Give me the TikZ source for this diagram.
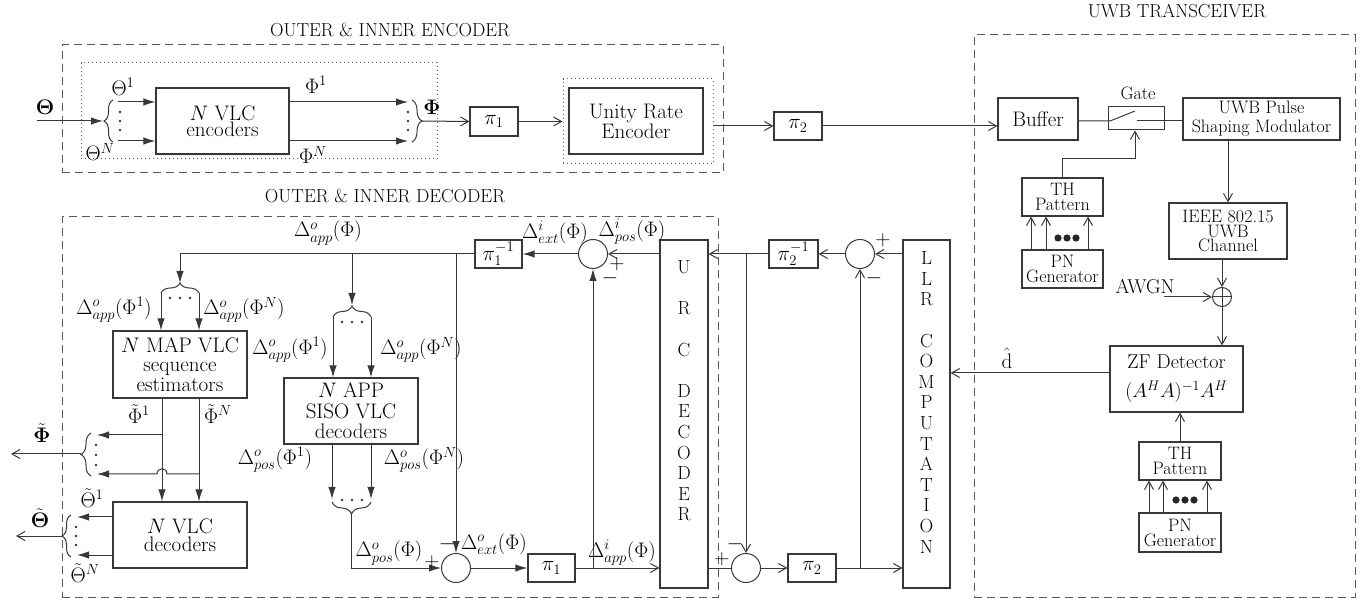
\RequirePackage{fix-cm}
\documentclass[tikz,border=0pt]{standalone}
\usepackage{amsmath}
\usetikzlibrary{arrows.meta,decorations.pathreplacing}
\begin{document}
\begin{tikzpicture}[x=1pt,y=-1pt,
  ln/.style={line width=1pt, draw=black!78},
  arF/.style={ln,-{Latex[length=12pt,width=7.5pt]}},
  arO/.style={ln,-{Straight Barb[length=8pt,width=9pt]}},
  box/.style={draw=black!78,line width=1.2pt,inner sep=0pt,align=center,font=\fontsize{21}{21}\selectfont},
  sbox/.style={box,font=\fontsize{18}{15}\selectfont},
  dbox/.style={draw=black!65,line width=1pt,dash pattern=on 8pt off 5pt,inner sep=0pt},
  tbox/.style={draw=black!65,line width=1pt,dash pattern=on 1.2pt off 2.8pt,inner sep=0pt},
  lab/.style={inner sep=0pt,font=\fontsize{21}{23}\selectfont},
  slab/.style={inner sep=0pt,font=\fontsize{18}{20}\selectfont},
  mlab/.style={inner sep=0pt,font=\fontsize{20}{22}\selectfont},
  ttl/.style={inner sep=0pt,font=\fontsize{18.8}{21}\selectfont},
  brc/.style={ln,decorate,decoration={brace,amplitude=#1}},
  brc/.default=10,
  sumc/.style={circle,draw=black!78,line width=1pt,minimum size=29pt,inner sep=0pt},
  vtxt/.style={inner sep=0pt,align=center,font=\fontsize{19}{20.6}\selectfont},
]
\useasboundingbox (0,0) rectangle (1369,601);
%================ ENCODER =================
\node[ttl] (encT) at (390,30) {OUTER \& INNER ENCODER};
\node[dbox,minimum width=661pt,minimum height=128pt] (encB) at (392.5,109) {};
\node[tbox,minimum width=356pt,minimum height=96pt] (dot1) at (259,111) {};
\node[box,font=\fontsize{21}{16}\selectfont,minimum width=133pt,minimum height=66pt] (venc) at (222.5,121) {$N$ VLC\\encoders};
\node[lab] (thIn) at (45,107) {$\mathbf{\Theta}$};
\coordinate (thS) at (37,121);
\coordinate (brL) at (103,121);
\draw[arF] (thS) -- (brL);
\draw[brc=9] (113,142) -- (113,100);
\foreach \yy in {112,121,130} \fill[black!80] (120,\yy) circle (1.4pt);
\node[lab] (th1) at (123,87) {$\Theta^1$};
\node[lab] (thN) at (100,152) {$\Theta^N$};
\coordinate (t1) at (118,102);
\coordinate (tN) at (118,141);
\draw[arF] (t1) -- (t1 -| venc.west);
\draw[arF] (tN) -- (tN -| venc.west);
\coordinate (p1) at (408,102);
\coordinate (pN) at (408,141);
\draw[arF] (p1 -| venc.east) -- (p1);
\draw[arF] (pN -| venc.east) -- (pN);
\node[lab] (ph1) at (316,85) {$\Phi^1$};
\node[lab] (phN) at (313,155) {$\Phi^N$};
\foreach \yy in {112,121,130} \fill[black!80] (408,\yy) circle (1.4pt);
\draw[brc=10] (412,100) -- (412,142);
\node[lab] (phO) at (432,107) {$\mathbf{\Phi}$};
\coordinate (phTp) at (422,121);
\node[box,minimum width=48pt,minimum height=29pt] (pi1) at (494,121.5) {$\pi_1$};
\draw[arO] (phTp) -- (pi1.west);
\node[tbox,minimum width=150pt,minimum height=85pt] (dot2) at (638,121.5) {};
\node[box,font=\fontsize{21}{18}\selectfont,minimum width=134pt,minimum height=66pt] (ure) at (636,121) {Unity Rate\\Encoder};
\draw[arO] (pi1.east) -- (dot2.west);
\node[box,minimum width=48pt,minimum height=28pt] (pi2) at (798,126) {$\pi_2$};
\draw[arO] (dot2.east |- pi2.west) -- (pi2.west);
%================ TRANSCEIVER =================
\node[ttl] (uwbT) at (1177,11) {UWB TRANSCEIVER};
\node[dbox,minimum width=381pt,minimum height=562pt] (uwbB) at (1164.5,316) {};
\node[box,minimum width=80pt,minimum height=42pt] (buf) at (1038,119) {Buffer};
\draw[arO] (pi2.east) -- (pi2.east -| buf.west);
\node[box,line width=1pt,minimum width=56pt,minimum height=23pt] (gate) at (1136,118.5) {};
\node[slab] (gateL) at (1138,93) {Gate};
\coordinate (sw1) at (1110,121);
\coordinate (sw2) at (1135,111);
\coordinate (sw3) at (1137,121);
\draw[ln] (buf.east |- sw1) -- (sw1) -- (sw2);
\node[sbox,font=\fontsize{18}{19}\selectfont,minimum width=157pt,minimum height=42pt] (mod) at (1261.5,119) {UWB Pulse\\Shaping Modulator};
\draw[ln] (sw3) -- (sw3 -| mod.west);
\node[sbox,minimum width=81pt,minimum height=38pt] (thA) at (1062.5,197) {TH\\Pattern};
\node[sbox,minimum width=81pt,minimum height=38pt] (pnA) at (1062.5,269) {PN\\Generator};
\coordinate (gc) at (1135,159);
\draw[arO] (thA.north) |- (gc) -- (gc |- gate.south);
\foreach \xx [count=\i] in {1031,1046,1088} {
  \coordinate (qa\i) at (\xx,0);
  \draw[arO] (pnA.north -| qa\i) -- (thA.south -| qa\i);
}
\foreach \xx in {1058,1067,1076} \fill[black!85] (\xx,238) circle (3.6pt);
\node[sbox,font=\fontsize{18}{14.5}\selectfont,minimum width=118pt,minimum height=56pt] (chan) at (1228,231) {IEEE 802.15\\UWB\\Channel};
\draw[arO] (mod.south -| chan.north) -- (chan.north);
\node[circle,draw=black!78,line width=1pt,minimum size=19pt,inner sep=0pt] (sum) at (1222,297) {};
\draw[ln] (sum.north) -- (sum.south) (sum.west) -- (sum.east);
\draw[arO] (sum |- chan.south) -- (sum.north);
\node[mlab] (awgn) at (1145,287) {AWGN};
\coordinate (aw) at (1164,297);
\draw[arO] (aw) -- (sum.west);
\node[box,font=\fontsize{20}{29}\selectfont,minimum width=133pt,minimum height=66pt] (zf) at (1176.5,379) {ZF Detector\\$(A^HA)^{-1}A^H$};
\draw[arO] (sum.south) -- (sum |- zf.north);
\node[sbox,minimum width=82pt,minimum height=38pt] (thB) at (1180,461) {TH\\Pattern};
\node[sbox,minimum width=82pt,minimum height=39pt] (pnB) at (1180,532.5) {PN\\Generator};
\draw[arO] (thB.north) -- (thB.north |- zf.south);
\foreach \xx [count=\i] in {1149,1163,1207} {
  \coordinate (qb\i) at (\xx,0);
  \draw[arO] (pnB.north -| qb\i) -- (thB.south -| qb\i);
}
\foreach \xx in {1176,1185,1194} \fill[black!85] (\xx,500) circle (3.6pt);
%================ DECODER =================
\node[ttl] (decT) at (385,196) {OUTER \& INNER DECODER};
\node[dbox,minimum width=656pt,minimum height=380pt] (decB) at (390,407) {};
\node[box,minimum width=48pt,minimum height=348pt] (urc) at (684,414) {};
\node[vtxt] (urcT) at (684,391) {U\\~\\R\\~\\C\\~\\D\\E\\C\\O\\D\\E\\R};
\node[box,minimum width=47pt,minimum height=348pt] (llr) at (926.5,414) {};
\node[vtxt] (llrT) at (926.5,402.5) {L\\L\\R\\~\\C\\O\\M\\P\\U\\T\\A\\T\\I\\O\\N};
\node[sumc] (c1t) at (593,254) {};
\node[sumc] (c1b) at (456,568) {};
\node[sumc] (c2t) at (860,254) {};
\node[sumc] (c2b) at (746,568) {};
\node[box,minimum width=47pt,minimum height=28pt] (pi1i) at (498.5,254) {$\pi_1^{-1}$};
\node[box,minimum width=49pt,minimum height=28pt] (pi2i) at (793.5,254) {$\pi_2^{-1}$};
\node[box,minimum width=47pt,minimum height=28pt] (pi1b) at (551.5,568) {$\pi_1$};
\node[box,minimum width=48pt,minimum height=28pt] (pi2b) at (812,568) {$\pi_2$};
% right loop
\draw[arO] (llr.west |- c2t) -- (c2t.east);
\draw[arO] (c2t.west) -- (pi2i.east);
\draw[arO] (pi2i.west) -- (pi2i.west -| urc.east);
\coordinate (c2bT) at (746,254);
\draw[arO] (c2bT) -- (c2b.north);
\draw[ln] (c2b.west -| urc.east) -- (c2b.west);
\draw[arO] (c2b.east) -- (pi2b.west);
\draw[arO] (pi2b.east) -- (pi2b.east -| llr.west);
\coordinate (c2tB) at (860,568);
\draw[arO] (c2tB) -- (c2t.south);
\node[lab] (pA) at (883,240) {$+$};
\node[lab] (mA) at (874,278) {$-$};
\node[lab] (mB) at (735,544) {$-$};
\node[lab] (pB) at (722,559) {$+$};
% d hat
\draw[arO] ([yshift=6pt]zf.west) -- ([yshift=6pt]zf.west -| llr.east);
\node[lab] (dh) at (1007,358) {$\hat{\mathrm{d}}$};
% left loop
\draw[arO] (c1t.east -| urc.west) -- (c1t.east);
\draw[arF] (c1t.west) -- (pi1i.east);
\node[lab] (dExtI) at (555,232) {$\Delta^i_{ext}(\Phi)$};
\node[lab] (dPosI) at (632,232) {$\Delta^i_{pos}(\Phi)$};
\node[lab] (pC) at (617,264) {$+$};
\node[lab] (mC) at (610,278) {$-$};
\coordinate (mapTip) at (180,283);
\draw[arF] (pi1i.west) -| (mapTip);
\node[lab] (dAppPhi) at (328,233) {$\Delta^o_{app}(\Phi)$};
% MAP estimators
\draw[brc=10] (161,293) -- (199,293);
\foreach \xx in {170,180,190} \fill[black!80] (\xx,298) circle (1.4pt);
\node[box,font=\fontsize{21}{19.5}\selectfont,minimum width=134pt,minimum height=67pt] (map) at (180,364.5) {$N$ MAP VLC\\sequence\\estimators};
\coordinate (mL) at (161,293);
\coordinate (mR) at (199,293);
\draw[arF] (mL) -- (mL |- map.north);
\draw[arF] (mR) -- (mR |- map.north);
\node[lab] (dA1) at (114,310) {$\Delta^o_{app}(\Phi^1)$};
\node[lab] (dAN) at (244,310) {$\Delta^o_{app}(\Phi^N)$};
\node[box,font=\fontsize{21}{18.5}\selectfont,minimum width=134pt,minimum height=66pt] (vdec) at (180,535) {$N$ VLC\\decoders};
\coordinate (oL) at (162,435);
\coordinate (oR) at (199,474);
\draw[arF] (map.south -| oL) -- (vdec.north -| oL);
\draw[arF] (map.south -| oR) -- (vdec.north -| oR);
\coordinate (fL) at (97,435);
\coordinate (fR) at (97,474);
\draw[arF] (oL) -- (fL);
\draw[arF] (oR) -- (167,474) .. controls (167,467) and (157,467) .. (157,474) -- (fR);
\draw[brc=10] (91,476) -- (91,433);
\foreach \yy in {445,455,465} \fill[black!80] (96,\yy) circle (1.4pt);
\coordinate (ftp) at (81,454);
\coordinate (fo) at (11,454);
\draw[arO] (ftp) -- (fo);
\node[lab] (phTl) at (42,433) {$\tilde{\mathbf{\Phi}}$};
\node[lab] (phT1) at (139,414) {$\tilde{\Phi}^1$};
\node[lab] (phTN) at (218,414) {$\tilde{\Phi}^N$};
\coordinate (g1) at (77,517);
\coordinate (gN) at (77,555);
\draw[arF] (g1 -| vdec.west) -- (g1);
\draw[arF] (gN -| vdec.west) -- (gN);
\draw[brc=9] (71,557) -- (71,515);
\foreach \yy in {527,536,545} \fill[black!80] (76,\yy) circle (1.4pt);
\coordinate (gtp) at (62,536);
\coordinate (go) at (16,536);
\draw[arO] (gtp) -- (go);
\node[lab] (thTl) at (40,518) {$\tilde{\mathbf{\Theta}}$};
\node[lab] (thT1) at (92,498) {$\tilde{\Theta}^1$};
\node[lab] (thTN) at (85,573) {$\tilde{\Theta}^N$};
% SISO
\node[box,font=\fontsize{21}{20.5}\selectfont,minimum width=134pt,minimum height=66pt] (siso) at (351,411) {$N$ APP\\SISO VLC\\decoders};
\coordinate (sT) at (352,254);
\coordinate (sTip) at (352,305);
\draw[arF] (sT) -- (sTip);
\draw[brc=11] (333,317) -- (371,317);
\foreach \xx in {342,352,362} \fill[black!80] (\xx,322) circle (1.4pt);
\coordinate (sL) at (333,317);
\coordinate (sR) at (371,317);
\draw[arF] (sL) -- (sL |- siso.north);
\draw[arF] (sR) -- (sR |- siso.north);
\node[lab] (dS1) at (290,350) {$\Delta^o_{app}(\Phi^1)$};
\node[lab] (dSN) at (421,350) {$\Delta^o_{app}(\Phi^N)$};
\coordinate (uL) at (332,499);
\coordinate (uR) at (371,499);
\draw[arF] (siso.south -| uL) -- (uL);
\draw[arF] (siso.south -| uR) -- (uR);
\draw[brc=12] (371,502) -- (332,502);
\foreach \xx in {342,352,362} \fill[black!80] (\xx,500) circle (1.4pt);
\coordinate (bt) at (351.5,514);
\draw[arF] (bt) |- (c1b.west);
\node[lab] (dP1) at (275,460) {$\Delta^o_{pos}(\Phi^1)$};
\node[lab] (dPN) at (424,460) {$\Delta^o_{pos}(\Phi^N)$};
\node[lab] (dPos) at (389,553) {$\Delta^o_{pos}(\Phi)$};
\node[lab] (pD) at (432,562) {$+$};
\node[lab] (mD) at (447,544) {$-$};
\node[lab] (dExt) at (494,544) {$\Delta^o_{ext}(\Phi)$};
\coordinate (c1bT) at (456,254);
\draw[arF] (c1bT) -- (c1b.north);
\draw[arF] (c1b.east) -- (pi1b.west);
\draw[arO] (pi1b.east) -- (pi1b.east -| urc.west);
\node[lab] (dAppI) at (622,553) {$\Delta^i_{app}(\Phi)$};
\coordinate (c1tB) at (593,568);
\draw[arF] (c1tB) -- (c1t.south);
\end{tikzpicture}
\end{document}
